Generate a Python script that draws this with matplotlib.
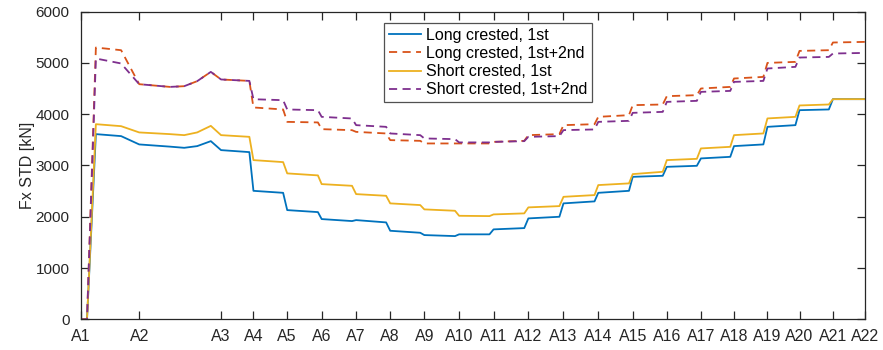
import matplotlib
matplotlib.use("Agg")
import matplotlib.pyplot as plt

plt.rcParams["font.family"] = ["Liberation Sans", "DejaVu Sans"]

# tick positions / labels (arbitrary x unit)
tick_pos = [0, 1.72, 4.12, 5.07, 6.06, 7.07, 8.08, 9.08, 10.08, 11.10, 12.11,
            13.13, 14.16, 15.18, 16.19, 17.19, 18.19, 19.16, 20.14, 21.08, 22.06, 23.0]
tick_lab = ["A%d" % i for i in range(1, 23)]

x = [0, 0.19, 0.45, 1.19, 1.72, 2.62, 3.04, 3.42, 3.82, 4.12, 4.95, 5.07,
     5.94, 6.06, 6.96, 7.07, 7.96, 8.08, 8.96, 9.08, 9.96, 10.08, 10.98, 11.10,
     11.99, 12.11, 13.01, 13.13, 14.04, 14.16, 15.07, 15.18, 16.08, 16.19,
     17.07, 17.19, 18.07, 18.19, 19.05, 19.16, 20.02, 20.14, 20.96, 21.08,
     21.94, 22.06, 23.0]

long_1st = [0, 0, 3612, 3573, 3411, 3368, 3345, 3378, 3475, 3300, 3261, 2506,
            2467, 2130, 2091, 1955, 1916, 1935, 1890, 1727, 1688, 1643, 1623, 1657,
            1657, 1754, 1779, 1968, 2000, 2261, 2300, 2467, 2506, 2779,
            2799, 2974, 2994, 3138, 3169, 3378, 3411, 3754, 3787, 4079,
            4093, 4294, 4294]

long_12 = [0, 0, 5301, 5249, 4586, 4533, 4547, 4645, 4826, 4678, 4650, 4132,
           4093, 3851, 3840, 3709, 3689, 3656, 3625, 3495, 3481, 3430, 3430, 3430,
           3430, 3461, 3481, 3592, 3612, 3787, 3806, 3949, 3982, 4177,
           4190, 4352, 4372, 4502, 4533, 4697, 4728, 5001, 5021, 5235,
           5249, 5399, 5411]

short_1st = [0, 0, 3806, 3767, 3645, 3612, 3592, 3645, 3773, 3592, 3559, 3105,
             3066, 2846, 2807, 2637, 2604, 2442, 2409, 2261, 2228, 2144, 2117, 2019,
             2013, 2046, 2066, 2183, 2208, 2389, 2423, 2618, 2651, 2832,
             2877, 3105, 3130, 3333, 3364, 3592, 3625, 3918, 3949, 4171,
             4190, 4294, 4294]

short_12 = [0, 0, 5087, 4990, 4586, 4533, 4547, 4645, 4826, 4678, 4650, 4293,
            4274, 4093, 4079, 3949, 3917, 3787, 3754, 3625, 3592, 3528, 3514, 3450,
            3450, 3461, 3475, 3559, 3573, 3690, 3703, 3851, 3871, 4027,
            4046, 4241, 4261, 4436, 4455, 4631, 4650, 4892, 4924, 5106,
            5118, 5184, 5196]

fig = plt.figure(figsize=(8.83, 3.5), dpi=100)
ax = fig.add_axes([0.0912, 0.0877, 0.8884, 0.8789])

lw = 1.3
ax.plot(x, long_1st, color="#0072BD", lw=lw, label="Long crested, 1st")
ax.plot(x, long_12, color="#D95319", lw=lw, ls=(0, (4.5, 3)), label="Long crested, 1st+2nd")
ax.plot(x, short_1st, color="#EDB120", lw=lw, label="Short crested, 1st")
ax.plot(x, short_12, color="#7E2F8E", lw=lw, ls=(0, (4.5, 3)), label="Short crested, 1st+2nd")

ax.set_xlim(0, 23)
ax.set_ylim(0, 6000)
ax.set_xticks(tick_pos)
ax.set_xticklabels(tick_lab)
ax.set_yticks(range(0, 6001, 1000))
ax.set_ylabel("Fx STD [kN]", fontsize=11.5, color="#262626")
ax.yaxis.set_label_coords(-0.058, 0.5)
ax.tick_params(direction="in", length=6, width=0.9, top=True, right=True,
               labelsize=11.5, colors="#262626")
ax.tick_params(axis="x", pad=7)
ax.tick_params(axis="y", pad=8, labelsize=11)
for s in ax.spines.values():
    s.set_color("#262626")
    s.set_linewidth(0.9)

leg = ax.legend(loc="upper left", bbox_to_anchor=(0.387, 0.963), borderaxespad=0,
                fontsize=11.5, frameon=True, fancybox=False, handlelength=2.0,
                handletextpad=0.3, borderpad=0.3, labelspacing=0.2)
leg.get_frame().set_edgecolor("#262626")
leg.get_frame().set_linewidth(0.9)

fig.savefig("out.png", dpi=100)
